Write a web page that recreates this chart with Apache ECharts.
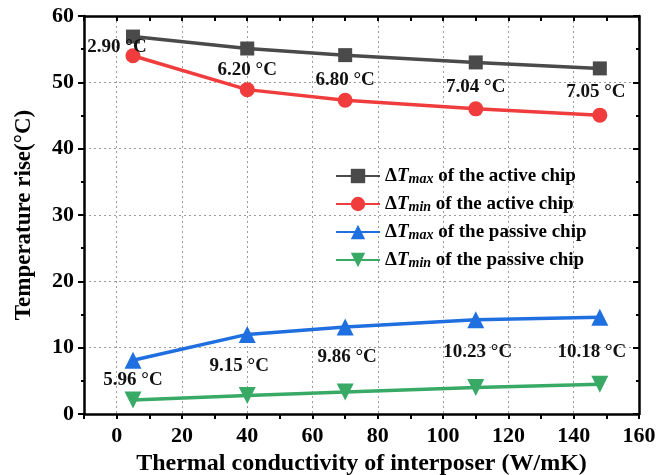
<!DOCTYPE html>
<html>
<head>
<meta charset="utf-8">
<script src="https://cdn.jsdelivr.net/npm/echarts@6/dist/echarts.min.js"></script>
<style>
  html, body { margin: 0; padding: 0; background: #fff; }
  #chart { width: 656px; height: 475px; }
</style>
</head>
<body>
<div id="chart"></div>
<script>
// thermal conductivity of the interposer (W/mK)
const conductivity = [5, 40, 70, 110, 148];

// temperature rise values (°C)
const activeMax = [56.9, 55.1, 54.1, 53.0, 52.1];
const activeMin = [54.0, 48.9, 47.3, 46.0, 45.05];
const passiveMax = [8.1, 12.0, 13.1, 14.2, 14.6];
const passiveMin = [2.1, 2.8, 3.3, 4.0, 4.5];

// temperature difference labels
const activeDiff = [2.90, 6.20, 6.80, 7.04, 7.05];
const passiveDiff = [5.96, 9.15, 9.86, 10.23, 10.18];

const seriesNames = [
    '{d|Δ}{t|T}{s|max}{r| of the active chip}',
    '{d|Δ}{t|T}{s|min}{r| of the active chip}',
    '{d|Δ}{t|T}{s|max}{r| of the passive chip}',
    '{d|Δ}{t|T}{s|min}{r| of the passive chip}'
];

// label nudges (px), not data
const activeShift = [[-16, -9], [0, -20], [0, -20], [0, -22], [-4, -23]];
const passiveShift = [[0, 20], [-8, 32], [2, 30], [2, 32], [-8, 35]];

const FONT = "'Liberation Serif', 'Times New Roman', serif";

function pairs(ys) {
    return conductivity.map((x, i) => [x, ys[i]]);
}

function withLabels(ys, diffs, shifts) {
    return conductivity.map((x, i) => ({
        value: [x, ys[i]],
        label: {
            show: true,
            position: 'inside',
            offset: shifts[i],
            formatter: diffs[i].toFixed(2) + ' °C'
        }
    }));
}

const chart = echarts.init(document.getElementById('chart'));

const labelStyle = {
    fontFamily: FONT,
    fontWeight: 'bold',
    fontSize: 19,
    color: '#111'
};

function lineSeries(name, data, color, symbol, size, rotate) {
    return {
        name: name,
        type: 'line',
        data: data,
        symbol: symbol,
        symbolSize: size,
        symbolRotate: rotate || 0,
        color: color,
        lineStyle: { color: color, width: 3.5 },
        itemStyle: { color: color },
        label: labelStyle,
        emphasis: { disabled: true },
        z: 3
    };
}

const axisLineStyle = { color: '#000', width: 2.5 };
const tickFont = { fontFamily: FONT, fontWeight: 'bold', fontSize: 22, color: '#000' };

const option = {
    animation: false,
    grid: { left: 84, right: 17, top: 16, bottom: 61, outerBoundsMode: 'none', containLabel: false },
    legend: {
        left: 330,
        top: 157,
        orient: 'vertical',
        itemWidth: 44,
        itemHeight: 18,
        itemGap: 4,
        data: seriesNames,
        textStyle: {
            fontFamily: FONT,
            fontWeight: 'bold',
            fontSize: 19,
            color: '#000',
            rich: {
                d: { fontFamily: FONT, fontWeight: 'bold', fontSize: 19, lineHeight: 20 },
                t: { fontFamily: FONT, fontWeight: 'bold', fontStyle: 'italic', fontSize: 19, lineHeight: 20 },
                s: { fontFamily: FONT, fontWeight: 'bold', fontStyle: 'italic', fontSize: 14, lineHeight: 20, verticalAlign: 'bottom', padding: [10, 0, 0, 0] },
                r: { fontFamily: FONT, fontWeight: 'bold', fontSize: 19, lineHeight: 20 }
            }
        }
    },
    xAxis: [
        {
            type: 'value',
            position: 'bottom',
            min: -10,
            max: 160,
            interval: 10,
            name: 'Thermal conductivity of interposer (W/mK)',
            nameLocation: 'middle',
            nameGap: 33,
            nameTextStyle: { fontFamily: FONT, fontWeight: 'bold', fontSize: 24, color: '#000' },
            axisLine: { onZero: false, lineStyle: axisLineStyle },
            axisTick: { inside: false, length: 5, lineStyle: { color: '#000', width: 2 } },
            axisLabel: Object.assign({}, tickFont, {
                margin: 11,
                formatter: v => (v % 20 === 0 ? String(v) : '')
            }),
            splitLine: {
                show: true,
                lineStyle: { color: ['transparent', '#9a9a9a'], type: [2, 3], width: 1 }
            }
        },
        {
            type: 'value',
            position: 'top',
            min: -10,
            max: 160,
            interval: 10,
            axisLine: { show: true, onZero: false, lineStyle: axisLineStyle },
            axisTick: { show: true, inside: true, length: 5, lineStyle: { color: '#000', width: 2 } },
            axisLabel: { show: false },
            splitLine: { show: false }
        }
    ],
    yAxis: [
        {
            type: 'value',
            position: 'left',
            min: 0,
            max: 60,
            interval: 10,
            name: 'Temperature rise(°C)',
            nameLocation: 'middle',
            nameGap: 48,
            nameTextStyle: { fontFamily: FONT, fontWeight: 'bold', fontSize: 23, color: '#000' },
            axisLine: { show: true, onZero: false, lineStyle: axisLineStyle },
            axisTick: { show: true, inside: false, length: 6, lineStyle: { color: '#000', width: 2 } },
            minorTick: { show: true, splitNumber: 2, length: 3, lineStyle: { color: '#000', width: 2 } },
            axisLabel: Object.assign({}, tickFont, { margin: 10 }),
            splitLine: {
                show: true,
                lineStyle: { color: '#9a9a9a', type: [2, 3], width: 1 }
            }
        },
        {
            type: 'value',
            position: 'right',
            min: 0,
            max: 60,
            interval: 10,
            axisLine: { show: true, onZero: false, lineStyle: axisLineStyle },
            axisTick: { show: true, inside: true, length: 6, lineStyle: { color: '#000', width: 2 } },
            minorTick: { show: true, splitNumber: 2, length: 3, lineStyle: { color: '#000', width: 2 } },
            axisLabel: { show: false },
            splitLine: { show: false }
        }
    ],
    series: [
        lineSeries(seriesNames[0], pairs(activeMax), '#4a4a4a', 'rect', 14),
        lineSeries(seriesNames[1], withLabels(activeMin, activeDiff, activeShift), '#f03c3c', 'circle', 15),
        lineSeries(seriesNames[2], withLabels(passiveMax, passiveDiff, passiveShift), '#1f6fe0', 'triangle', 17),
        lineSeries(seriesNames[3], pairs(passiveMin), '#38aa66', 'triangle', 17, 180)
    ]
};

chart.setOption(option);
</script>
</body>
</html>
